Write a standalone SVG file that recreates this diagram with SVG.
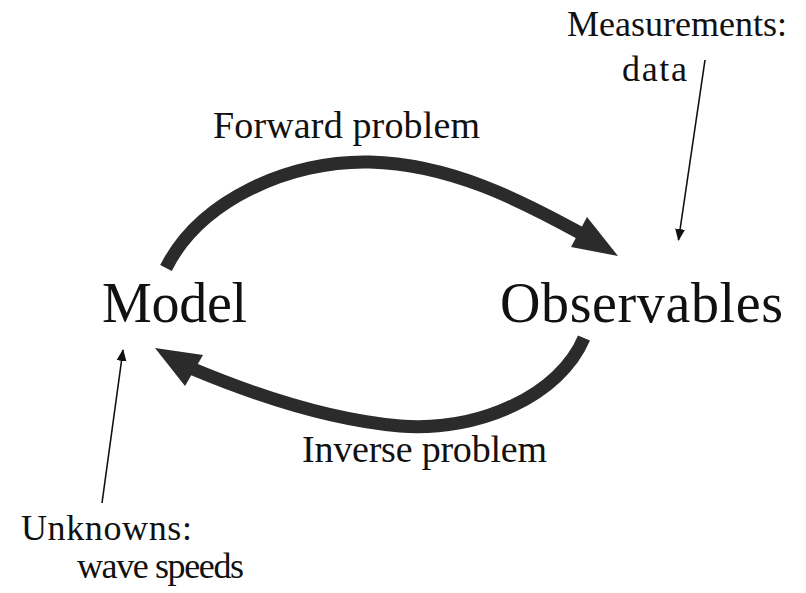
<svg xmlns="http://www.w3.org/2000/svg" width="806" height="593" viewBox="0 0 806 593">
<style>
text{font-family:"Liberation Serif","Times New Roman",serif;fill:#111}
.big{font-size:56px}
.mid{font-size:38px}
.lbl{font-size:36px}
.thick{fill:none;stroke:#2b2b2b;stroke-width:13}
.head{fill:#2b2b2b}
.thin{fill:none;stroke:#111;stroke-width:1.6}
</style>
<defs>
<marker id="ah" markerWidth="12" markerHeight="20" refX="11" refY="5" orient="auto" markerUnits="userSpaceOnUse" viewBox="0 0 12 10">
<path d="M0,0 L12,5 L0,10 Z" fill="#111"/>
</marker>
</defs>
<g id="model"><text class="big" x="102" y="322" textLength="145">Model</text></g>
<g id="observables"><text class="big" x="500" y="322" textLength="283">Observables</text></g>
<g id="measurements"><text class="lbl" x="567" y="36" textLength="220">Measurements:</text><text class="lbl" x="622" y="81" textLength="65">data</text></g>
<g id="unknowns"><text class="lbl" x="21" y="540" textLength="171">Unknowns:</text><text class="lbl" x="77" y="578" textLength="167">wave speeds</text></g>
<g id="connectors">
<path class="thick" d="M166,268 C200,200 290,160 370,162 C450,164 520,200 582,234"/>
<polygon class="head" points="618,256 587,217 571,247"/>
<text class="mid" x="213" y="138" textLength="267">Forward problem</text>
<path class="thick" d="M584,338 C560,395 480,432 400,426 C330,420 260,397 193,369"/>
<polygon class="head" points="155,348 203,355 185,386"/>
<text class="mid" x="302" y="462" textLength="245">Inverse problem</text>
<line class="thin" x1="705" y1="60" x2="678.5" y2="240" marker-end="url(#ah)"/>
<line class="thin" x1="102" y1="503" x2="123" y2="350" marker-end="url(#ah)"/>
</g>
</svg>
